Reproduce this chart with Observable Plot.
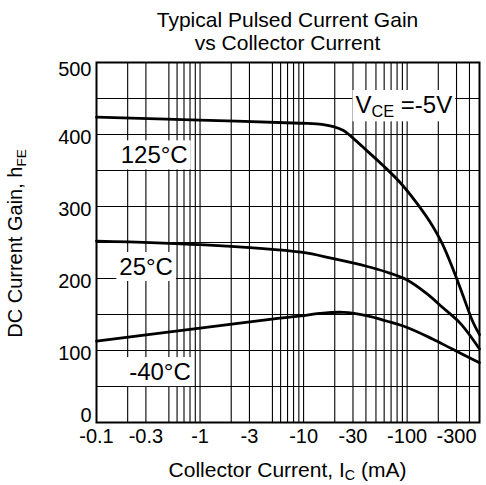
<!DOCTYPE html>
<html><head><meta charset="utf-8">
<script src="https://cdn.jsdelivr.net/npm/d3@7"></script>
<script src="https://cdn.jsdelivr.net/npm/@observablehq/plot@0.6"></script>
<style>
body{margin:0;background:#fff;font-family:"Liberation Sans",Arial,sans-serif;color:#000;}
#title{box-sizing:border-box;width:486px;padding:8px 7px 0 96px;font-size:21px;line-height:23px;text-align:center;}
svg text{font-family:"Liberation Sans",Arial,sans-serif;fill:#000;}
</style></head>
<body>
<div id="title">Typical Pulsed Current Gain<br>vs Collector Current</div>
<div id="chart"></div>
<script>
// Axis ticks and grid
const xTicks = [0.1, 0.3, 1, 3, 10, 30, 100, 300];
const yTicks = [0, 100, 200, 300, 400, 500];
const xGrid = [0.2,0.3,0.5,0.6,0.7,0.8,0.9,1,2,3,5,6,7,8,9,10,20,30,40,50,60,70,80,90,100,200,300,400];
const yGrid = [50,100,150,200,250,300,350,400,450];

// Series: collector current (mA, magnitude) and DC current gain hFE
const ic125  = [0.1, 1, 9.4, 13.4, 19.4, 24.3, 30, 40.5, 58.5, 84.7, 122, 176, 219, 273, 342, 428, 500];
const hfe125 = [424, 420, 415.6, 414.8, 411, 405.5, 395, 378, 357, 334, 306, 273, 248, 215.5, 178.5, 141, 122];
const ic25   = [0.1, 1, 9.4, 19.4, 40.5, 63, 100, 155, 219, 330, 500];
const hfe25  = [252, 247, 236.5, 227.5, 217, 209, 198, 179, 160, 137, 102];
const icm40  = [0.1, 1, 5.9, 9.4, 14.3, 24.3, 40.5, 63, 100, 176, 273, 500];
const hfem40 = [113, 131, 145, 148, 151.5, 153, 148.5, 141, 132, 116, 102, 83];

// Curve labels
const labelText = ["125°C", "25°C", "-40°C"];
const labelX = [0.365, 0.305, 0.415];
const labelY = [371, 216, 70];

const toRows = (xs, ys) => xs.map((x, i) => ({ic: x, hfe: ys[i]}));
const series = [toRows(ic125, hfe125), toRows(ic25, hfe25), toRows(icm40, hfem40)];

const yAxisOpts = {tickSize: 0, tickPadding: 5, label: null, fontSize: 20};

const plot = Plot.plot({
  width: 486, height: 431,
  marginTop: 8, marginLeft: 96, marginRight: 7, marginBottom: 63,
  style: {fontFamily: "Liberation Sans, Arial, sans-serif", fontSize: "20px", color: "#000", background: "#fff"},
  x: {type: "log", domain: [0.1, 500]},
  y: {domain: [0, 500]},
  marks: [
    Plot.ruleX(xGrid, {stroke: "#000", strokeWidth: 1.1}),
    Plot.ruleY(yGrid, {stroke: "#000", strokeWidth: 1.1}),
    Plot.axisX({ticks: xTicks, tickSize: 0, tickPadding: 6, tickFormat: d => "-" + d, label: null, fontSize: 20}),
    Plot.axisY({...yAxisOpts, ticks: yTicks.slice(1, -1), dy: 3}),
    Plot.axisY({...yAxisOpts, ticks: yTicks.slice(0, 1), dy: -7}),
    Plot.axisY({...yAxisOpts, ticks: yTicks.slice(-1), dy: 7}),
    ...series.map(s => Plot.line(s, {x: "ic", y: "hfe", curve: "catmull-rom", stroke: "#000", strokeWidth: 2.8})),
    Plot.frame({stroke: "#000", strokeWidth: 2})
  ]
});
document.getElementById("chart").appendChild(plot);

const svg = d3.select(plot);
const xs = plot.scale("x"), ys = plot.scale("y");

function addText(parts, x, y, size, opts = {}) {
  const g = svg.append("g");
  const t = g.append("text")
    .attr("x", x).attr("y", y)
    .attr("text-anchor", "middle")
    .style("font-size", size + "px");
  if (opts.transform) t.attr("transform", opts.transform);
  let shift = 0;
  parts.forEach(p => {
    const ts = t.append("tspan").text(p.t);
    if (p.sub) {
      const s = size * 0.68;
      ts.style("font-size", s + "px").attr("dy", (size * 0.18 - shift));
      shift = size * 0.18;
    } else if (shift) {
      ts.attr("dy", -shift);
      shift = 0;
    }
  });
  if (opts.box) {
    const b = t.node().getBBox();
    g.insert("rect", "text")
      .attr("x", b.x - 3).attr("y", b.y - 1)
      .attr("width", b.width + 6).attr("height", b.height + 2)
      .attr("fill", "#fff");
  }
  return t;
}

labelText.forEach((s, i) => {
  addText([{t: s}], xs.apply(labelX[i]), ys.apply(labelY[i]) + 8.5, 24, {box: true});
});
addText([{t: "V"}, {t: "CE", sub: true}, {t: " =-5V"}], xs.apply(94), ys.apply(441) + 8.5, 24, {box: true});

// Axis titles
const xMid = (xs.range[0] + xs.range[1]) / 2;
addText([{t: "Collector Current, I"}, {t: "C", sub: true}, {t: " (mA)"}], xMid, 422.5, 21);
const yMid = ys.apply(248);
addText([{t: "DC Current Gain, h"}, {t: "FE", sub: true}], 0, 0, 20, {transform: `translate(22,${yMid}) rotate(-90)`});
</script>
</body></html>
